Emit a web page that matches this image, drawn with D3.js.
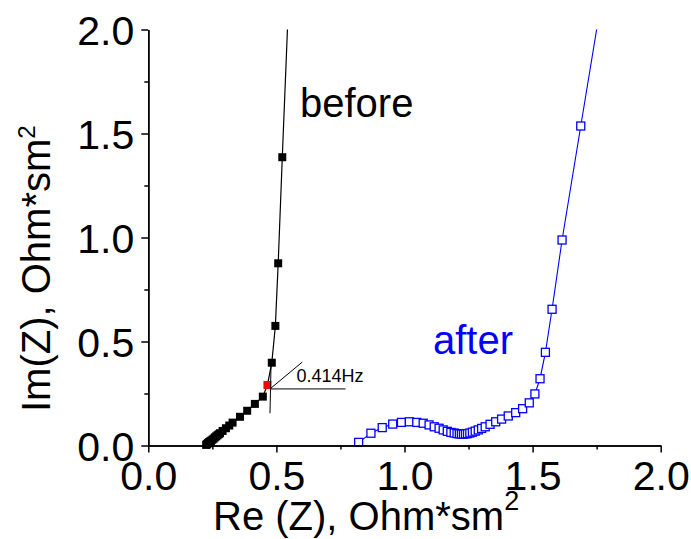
<!DOCTYPE html>
<html>
<head>
<meta charset="utf-8">
<script src="https://cdn.jsdelivr.net/npm/d3@7"></script>
<style>
  html, body { margin: 0; padding: 0; background: #fff; }
  svg { display: block; font-family: "Liberation Sans", Arial, sans-serif; }
</style>
</head>
<body>
<svg id="chart" width="691" height="539"></svg>
<script>
// ---- data ----
const xTicks = [0.0, 0.5, 1.0, 1.5, 2.0];
const yTicks = [0.0, 0.5, 1.0, 1.5, 2.0];
const minorTicks = [0.25, 0.75, 1.25, 1.75];

// "before" series: Re(Z), Im(Z)
const beforeRe = [0.226, 0.228, 0.230, 0.233, 0.235, 0.237, 0.239, 0.241, 0.243, 0.245, 0.250, 0.255, 0.260, 0.265, 0.270, 0.275, 0.280, 0.290, 0.303, 0.316, 0.329, 0.358, 0.386, 0.416, 0.447, 0.465, 0.482, 0.496, 0.507, 0.523, 0.547];
const beforeIm = [0.003, 0.005, 0.008, 0.011, 0.013, 0.015, 0.017, 0.018, 0.021, 0.023, 0.028, 0.033, 0.039, 0.044, 0.049, 0.054, 0.059, 0.070, 0.083, 0.096, 0.110, 0.138, 0.167, 0.200, 0.235, 0.291, 0.398, 0.575, 0.876, 1.386, 2.12];
const highlightRe = 0.465; // red point (0.414 Hz)

// "after" series
const afterRe = [0.821, 0.869, 0.913, 0.954, 0.988, 1.019, 1.048, 1.073, 1.096, 1.116, 1.135, 1.151, 1.167, 1.181, 1.194, 1.205, 1.214, 1.222, 1.230, 1.238, 1.246, 1.255, 1.265, 1.276, 1.288, 1.301, 1.315, 1.334, 1.356, 1.379, 1.405, 1.434, 1.461, 1.487, 1.509, 1.529, 1.550, 1.576, 1.615, 1.688, 1.766];
const afterIm = [0.015, 0.059, 0.086, 0.103, 0.111, 0.114, 0.111, 0.107, 0.099, 0.090, 0.083, 0.075, 0.068, 0.063, 0.060, 0.057, 0.056, 0.055, 0.055, 0.056, 0.057, 0.060, 0.064, 0.069, 0.075, 0.082, 0.090, 0.102, 0.114, 0.127, 0.142, 0.158, 0.177, 0.205, 0.248, 0.321, 0.448, 0.655, 0.988, 1.536, 2.12];

// annotation (data coords)
const annotCenter = [0.475, 0.272];
const annotHorizEnd = [0.770, 0.272];
const annotVert = [[0.479, 0.387], [0.475, 0.155]];
const annotDiagEnd = [0.601, 0.401];
const annotLabel = "0.414Hz";
const annotLabelPos = [0.578, 0.305];

// ---- layout ----
const svg = d3.select("#chart");
const x = d3.scaleLinear().domain([0, 2]).range([148.3, 660.7]);
const y = d3.scaleLinear().domain([0, 2]).range([445.5, 29.5]);

svg.append("defs").append("clipPath").attr("id", "clip")
  .append("rect").attr("x", x(0)).attr("y", y(2)).attr("width", x(2) - x(0)).attr("height", y(0) - y(2));

const before = beforeRe.map((v, i) => ({ re: v, im: beforeIm[i] }));
const after = afterRe.map((v, i) => ({ re: v, im: afterIm[i] }));

const line = d3.line().x(d => x(d.re)).y(d => y(d.im));

// lines
svg.append("path").datum(before).attr("d", line)
  .attr("fill", "none").attr("stroke", "#000").attr("stroke-width", 1.2).attr("clip-path", "url(#clip)");
svg.append("path").datum(after).attr("d", line)
  .attr("fill", "none").attr("stroke", "#0000ff").attr("stroke-width", 1.1).attr("clip-path", "url(#clip)");

// markers
const bs = 8;
svg.append("g").selectAll("rect").data(before.filter(d => d.im <= 2)).join("rect")
  .attr("x", d => x(d.re) - bs / 2).attr("y", d => y(d.im) - bs / 2)
  .attr("width", bs).attr("height", bs)
  .attr("fill", d => d.re === highlightRe ? "#ff0000" : "#000");

const as = 8;
svg.append("g").selectAll("rect").data(after.filter(d => d.im <= 2)).join("rect")
  .attr("x", d => x(d.re) - as / 2).attr("y", d => y(d.im) - as / 2)
  .attr("width", as).attr("height", as)
  .attr("fill", "#fff").attr("stroke", "#0000ff").attr("stroke-width", 1.3);

// annotation
const ag = svg.append("g").attr("stroke", "#000").attr("stroke-width", 1);
ag.append("line").attr("x1", x(annotCenter[0])).attr("y1", y(annotCenter[1]))
  .attr("x2", x(annotHorizEnd[0])).attr("y2", y(annotHorizEnd[1]));
ag.append("line").attr("x1", x(annotVert[0][0])).attr("y1", y(annotVert[0][1]))
  .attr("x2", x(annotVert[1][0])).attr("y2", y(annotVert[1][1]));
ag.append("line").attr("x1", x(annotCenter[0])).attr("y1", y(annotCenter[1]))
  .attr("x2", x(annotDiagEnd[0])).attr("y2", y(annotDiagEnd[1]));
svg.append("text").attr("x", x(annotLabelPos[0])).attr("y", y(annotLabelPos[1]))
  .attr("font-size", 18).attr("fill", "#000").text(annotLabel);

// series labels
svg.append("text").attr("x", 300).attr("y", 117).attr("font-size", 40).attr("fill", "#000").text("before");
svg.append("text").attr("x", 433).attr("y", 354).attr("font-size", 40).attr("fill", "#0000ff").text("after");

// axes
const fmt = d3.format(".1f");
const xAxis = svg.append("g").attr("transform", `translate(0,${y(0)})`)
  .call(d3.axisBottom(x).tickValues(xTicks).tickFormat(fmt).tickSize(7).tickPadding(8).tickSizeOuter(0));
const xMinor = svg.append("g").attr("transform", `translate(0,${y(0)})`)
  .call(d3.axisBottom(x).tickValues(minorTicks).tickFormat("").tickSize(4).tickSizeOuter(0));
const yAxis = svg.append("g").attr("transform", `translate(${x(0)},0)`)
  .call(d3.axisLeft(y).tickValues(yTicks).tickFormat(fmt).tickSize(7).tickPadding(7).tickSizeOuter(0));
const yMinor = svg.append("g").attr("transform", `translate(${x(0)},0)`)
  .call(d3.axisLeft(y).tickValues(minorTicks).tickFormat("").tickSize(4).tickSizeOuter(0));

[xAxis, xMinor, yAxis, yMinor].forEach(g => {
  g.selectAll("path, line").attr("stroke", "#000").attr("stroke-width", 1.5);
  g.selectAll("text").attr("font-size", 41).attr("fill", "#000")
    .attr("font-family", "'Liberation Sans', Arial, sans-serif");
});
yAxis.selectAll("text").attr("dy", "0.36em");
xAxis.selectAll("text").attr("dy", "0.72em");

// axis titles
const xt = svg.append("text").attr("x", 213).attr("y", 530).attr("font-size", 40).attr("fill", "#000");
xt.append("tspan").text("Re (Z), Ohm*sm");
xt.append("tspan").attr("font-size", 27).attr("dy", -20).text("2");

const yt = svg.append("text").attr("transform", "translate(50,412) rotate(-90)")
  .attr("font-size", 40).attr("fill", "#000");
yt.append("tspan").text("Im(Z), Ohm*sm");
yt.append("tspan").attr("font-size", 24).attr("dy", -15).text("2");
</script>
</body>
</html>
